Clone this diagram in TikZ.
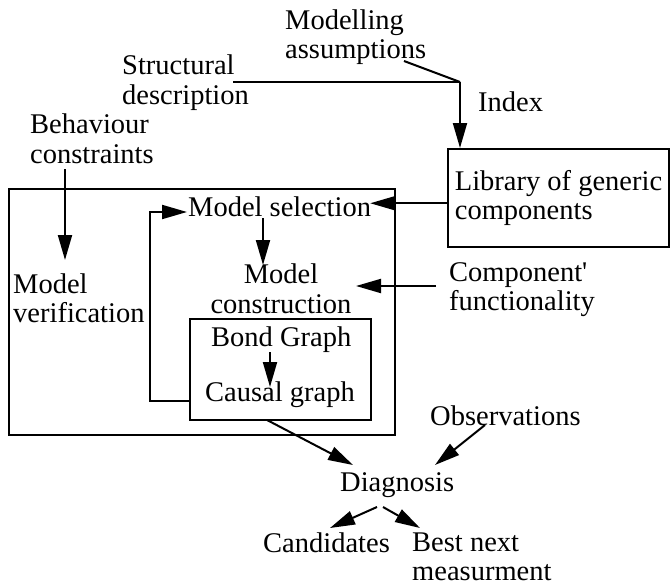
\documentclass[tikz,border=0pt]{standalone}
\usepackage{fontspec}
\setmainfont{Liberation Serif}
\usetikzlibrary{arrows.meta,calc}
\begin{document}
\begin{tikzpicture}[x=1pt,y=-1pt,
  lbl/.style={inner sep=0pt,anchor=base west,align=left,font=\fontsize{28.5}{29}\selectfont},
  lblc/.style={inner sep=0pt,anchor=base,align=center,font=\fontsize{28.5}{29.5}\selectfont},
  boxnode/.style={draw,line width=2pt,inner sep=0pt,anchor=north west},
  arr/.style={line width=2pt,-{Triangle[length=25pt,width=14pt]}},
  ln/.style={line width=2pt}]
\useasboundingbox (0,0) rectangle (670,586);
% text nodes (two-line nodes are placed by the baseline of their last line)
\node[lbl] (modass) at (285,59) {Modelling\\assumptions};
\node[lbl] (struct) at (122,104) {Structural\\description};
\node[lbl] (index) at (478,112) {Index};
\node[lbl] (behav) at (30,163) {Behaviour\\constraints};
\node[boxnode,minimum width=221pt,minimum height=98pt,align=left,
      font=\fontsize{28.5}{29}\selectfont] (lib) at (447,148) {Library of generic\\components};
\node[boxnode,minimum width=386pt,minimum height=246pt] (outer) at (8,188) {};
\node[lbl] (msel) at (188,216) {Model selection};
\node[lblc] (mcons) at (281,313) {Model\\construction};
\node[lbl] (mverif) at (13,322) {Model\\verification};
\node[boxnode,minimum width=181pt,minimum height=101pt] (inner) at (189,318) {};
\node[lbl] (bond) at (211,346) {Bond Graph};
\node[lbl] (causal) at (205,401) {Causal graph};
\node[lbl] (comp) at (449,310) {Component\textquotesingle\\functionality};
\node[lbl] (obs) at (430,425) {Observations};
\node[lbl] (diag) at (340,491) {Diagnosis};
\node[lbl] (cand) at (263,552) {Candidates};
\node[lbl] (best) at (412,580) {Best next\\measurment};
% junction and free ends
\coordinate (j) at (460,82);
\coordinate (assEnd) at (404,61);
\coordinate (structEnd) at (233,82);
\coordinate (bStart) at (65,169);
% connectors
\draw[ln] (assEnd) -- (j);
\draw[ln] (structEnd) -- (j);
\draw[arr] (j) -- (j |- lib.north);
\draw[arr] ([yshift=3pt]lib.west |- msel.east) -- ([yshift=3pt,xshift=-1pt]msel.east);
\draw[arr] (bStart) -- (65,260);
\draw[arr] (263,218) -- (263,265);
\draw[arr] (436,286) -- (356,286);
\draw[arr] (causal.base -| inner.west) -- (150,401) -- (150,212) -- (187,212);
\draw[arr] (270,352) -- (270,387);
\draw[arr] (267,420) -- (353,465);
\draw[arr] (485,425) -- (435,465);
\draw[arr] (377,507) -- (330,528);
\draw[arr] (383,507) -- (420,528);
\end{tikzpicture}
\end{document}
